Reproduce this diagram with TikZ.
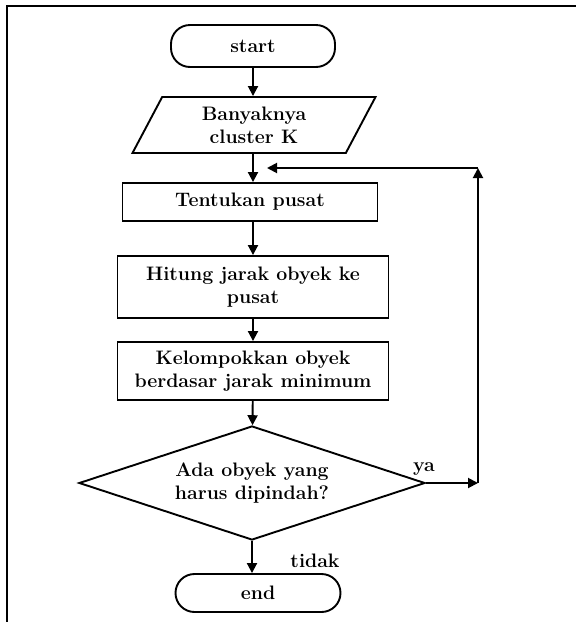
\documentclass[tikz,border=0pt]{standalone}
\usetikzlibrary{shapes.geometric,arrows.meta}

\tikzset{
  every node/.style={font=\fontsize{19.5}{23}\selectfont\bfseries},
  term/.style={draw,line width=1.9pt,rounded corners=19pt,minimum width=164pt,minimum height=42pt},
  inout/.style={draw,line width=1.9pt,trapezium,trapezium left angle=51,trapezium right angle=129,
    trapezium stretches body,minimum width=243pt,minimum height=56pt,align=center,inner sep=0pt},
  proc/.style={draw,line width=1.9pt,align=center,inner sep=0pt},
  test/.style={draw,line width=1.9pt,diamond,aspect=3,minimum width=346pt,minimum height=114pt,align=center,inner sep=0pt},
  flow/.style={line width=1.9pt,-{Triangle[length=10pt,width=10pt]}}
}

\begin{document}
\begin{tikzpicture}[x=1pt,y=-1pt]
\useasboundingbox (0,0) rectangle (576,622);

% frame
\draw[line width=1.6pt] (7,622) -- (7,6) -- (576,6);

\node[term] (start) at (253,46) {start};
\node[inout] (jumlah) at (254,125) {Banyaknya\\cluster K};
\node[proc,minimum width=255pt,minimum height=38pt] (pusat) at (250,202) {Tentukan pusat};
\node[proc,minimum width=271pt,minimum height=62pt] (jarak) at (253,287) {Hitung jarak obyek ke\\pusat};
\node[proc,minimum width=271pt,minimum height=58pt] (kelompok) at (253,371) {Kelompokkan obyek\\berdasar jarak minimum};
\node[test] (cek) at (252,483) {Ada obyek yang\\harus dipindah?};
\node[term,minimum width=165pt,minimum height=38pt] (end) at (258,593) {end};

\node (ya) at (424,469) {ya};
\node (tidak) at (315,561) {tidak};

\coordinate (kanan) at (478,483);
\coordinate (atas) at (478,168);
\coordinate (balik) at (267,168);

\draw[flow] (start.south -| 253,0) -- (jumlah.north -| 253,0);
\draw[flow] (jumlah.south -| 253,0) -- (pusat.north -| 253,0);
\draw[flow] (pusat.south -| 253,0) -- (jarak.north -| 253,0);
\draw[flow] (jarak) -- (kelompok);
\draw[flow] (kelompok) -- (cek);
\draw[flow] (cek.south) -- (cek.south |- end.north);
\draw[flow] (cek.east) -- (kanan);
\draw[flow] (kanan) -- (atas);
\draw[flow] (atas) -- (balik);
\end{tikzpicture}
\end{document}
